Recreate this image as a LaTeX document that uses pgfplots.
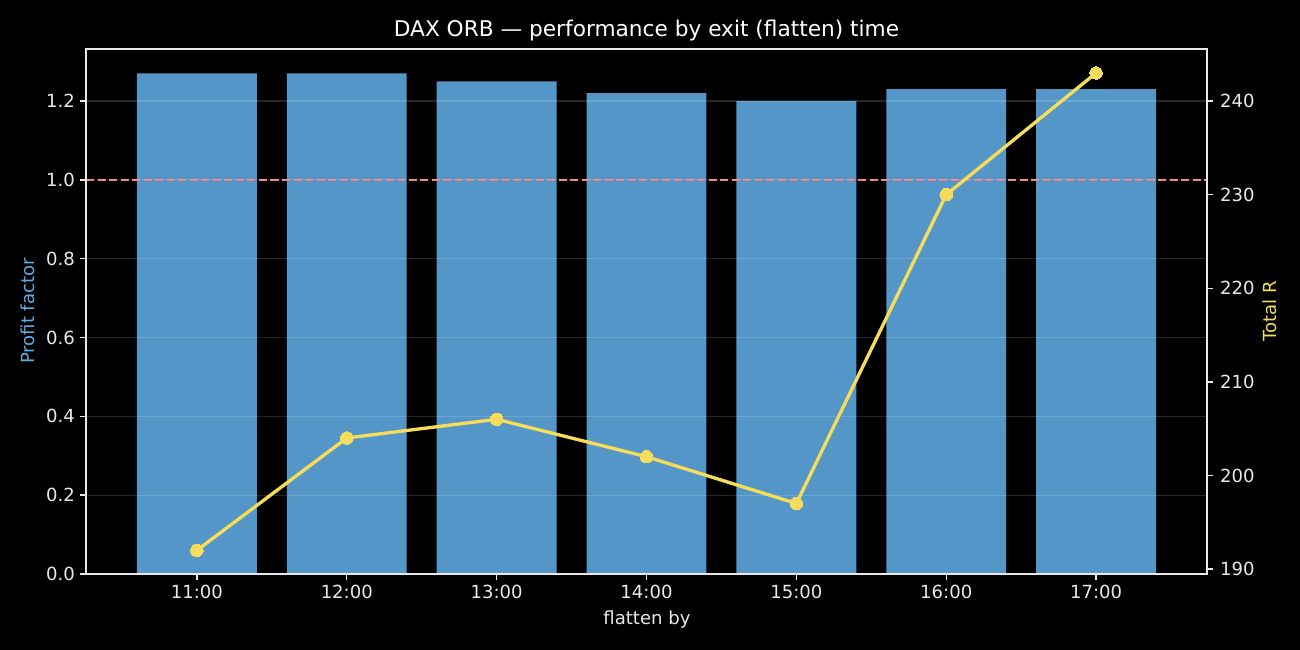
\documentclass[border=0pt]{standalone}
\usepackage{pgfplots}
\pgfplotsset{compat=1.18}
\usepackage{fontspec}
\setmainfont{DejaVu Sans}

\definecolor{barblue}{HTML}{5396C7}
\definecolor{lineyel}{HTML}{F5DC5A}
\definecolor{refred}{HTML}{F08080}
\definecolor{pflabel}{HTML}{5DADE2}
\definecolor{axfg}{HTML}{E8E8E8}

\pgfplotsset{
  darkax/.style={
    at={(61.92bp,54.72bp)}, anchor=south west,
    scale only axis, width=807.12bp, height=378bp,
    xmin=-0.74, xmax=6.74,
    axis line style={axfg, line width=1.04bp},
    tick style={axfg, line width=1.04bp},
    tick align=outside, major tick length=4.5bp,
    ticklabel style={font=\fontsize{13bp}{15bp}\selectfont, text=axfg},
    /pgf/number format/assume math mode=true,
  }
}

\begin{document}
\begin{tikzpicture}
\fill[black] (0,0) rectangle (936bp,468bp);

% left axis: profit factor bars
\begin{axis}[darkax,
  ymin=0, ymax=1.332,
  xtick={0,1,2,3,4,5,6},
  xticklabels={11:00,12:00,13:00,14:00,15:00,16:00,17:00},
  xtick pos=bottom, ytick pos=left,
  ytick={0,0.2,0.4,0.6,0.8,1.0,1.2},
  yticklabel style={/pgf/number format/.cd, fixed, fixed zerofill, precision=1},
  ymajorgrids, grid style={white, opacity=0.15, line width=0.8bp},
  axis on top,
]
  \addplot[ybar, bar width=0.8, bar shift=0, fill=barblue, draw=none]
    coordinates {(0,1.27) (1,1.27) (2,1.25) (3,1.22) (4,1.20) (5,1.23) (6,1.23)};
  \addplot[refred, line width=1.4bp, dash pattern=on 5.8bp off 2.5bp]
    coordinates {(-0.74,1.0) (6.74,1.0)};
\end{axis}

% right axis: total R line
\begin{axis}[darkax,
  ymin=189.47, ymax=245.56,
  axis x line=none,
  axis y line*=right,
  ytick={190,200,210,220,230,240},
  ytick pos=right,
  yticklabel style={xshift=1.5bp},
]
  \addplot[lineyel, line width=2.4bp, mark=*, mark size=4.5bp,
    mark options={fill=lineyel, draw=lineyel, line width=0bp}]
    coordinates {(0,192) (1,204) (2,206) (3,202) (4,197) (5,230) (6,243)};
\end{axis}

\node[anchor=base, text=white, font=\fontsize{15.6bp}{18bp}\selectfont] at (465.5bp,441.4bp)
  {DAX ORB — performance by exit (flatten) time};
\node[text=axfg, font=\fontsize{13bp}{15bp}\selectfont] at (465.8bp,21.6bp) {flatten by};
\node[rotate=90, text=pflabel, font=\fontsize{13bp}{15bp}\selectfont] at (20.2bp,244.1bp) {Profit factor};
\node[rotate=90, text=lineyel, font=\fontsize{13bp}{15bp}\selectfont] at (914.4bp,244.1bp) {Total R};
\end{tikzpicture}
\end{document}
